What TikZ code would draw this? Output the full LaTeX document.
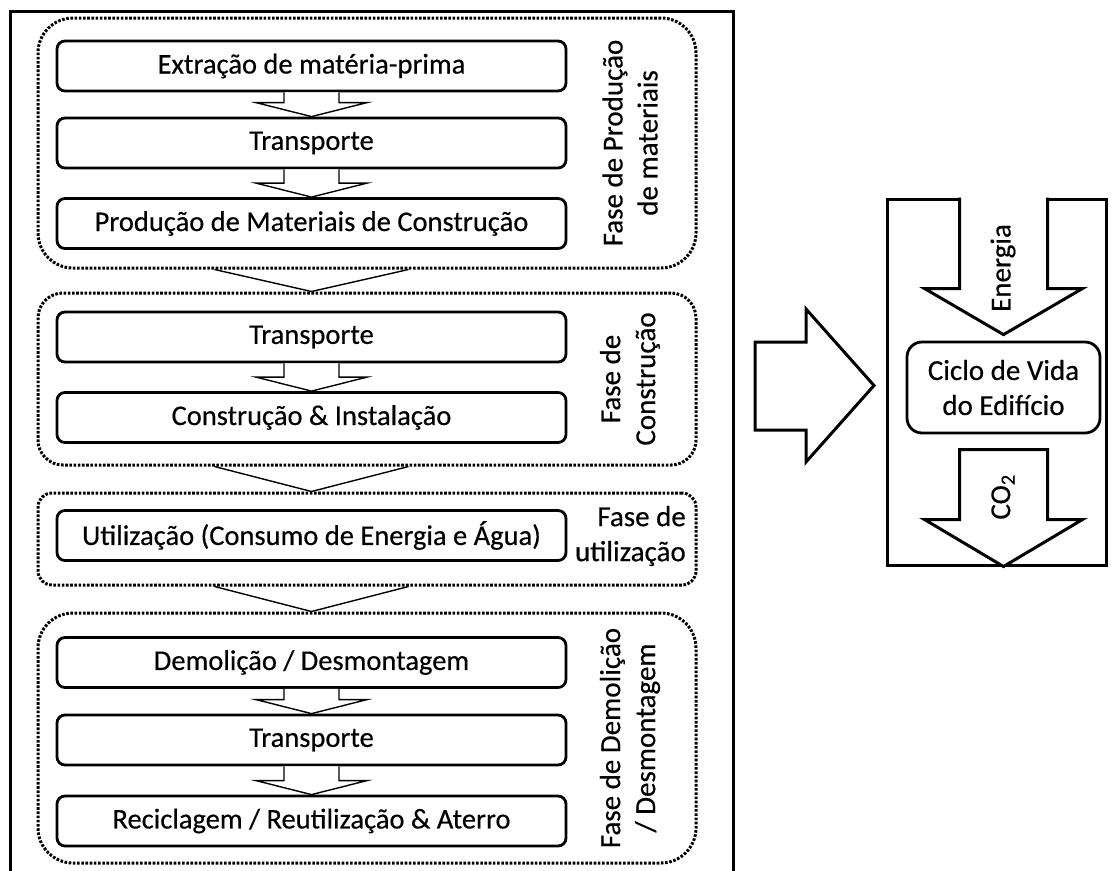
\documentclass[tikz,border=0pt]{standalone}
\usepackage{fontspec}
\setmainfont{Carlito}[FakeBold=0.4]
\usetikzlibrary{calc}
\begin{document}
\begin{tikzpicture}[x=1pt,y=-1pt,
  boxstyle/.style={draw,line width=2.8pt,rounded corners=8pt,minimum width=509pt,minimum height=50pt,inner sep=0pt,font=\fontsize{28.5}{33}\selectfont,fill=white},
  phase/.style={draw,line width=3pt,dash pattern=on 2.6pt off 1.6pt,minimum width=658pt,inner sep=0pt},
  thinarrow/.style={draw,line width=1.4pt,fill=white,line join=miter},
  widearrow/.style={draw,line width=1.4pt},
  bigarrow/.style={draw,line width=3pt,line join=miter,fill=white},
  phaselabel/.style={font=\fontsize{29}{35}\selectfont,align=center,inner sep=0pt}]
\fill[white] (0,0) rectangle (1113,870);
\useasboundingbox (0,0) rectangle (1113,870);
\clip (0,0) rectangle (1113,870);

% outer frame
\node[draw,line width=3pt,minimum width=723pt,minimum height=869pt,inner sep=0pt] (outer) at (371.5,445.5) {};

% phase groups
\node[phase,rounded corners=35pt,minimum height=250pt] (g1) at (367,143) {};
\node[phase,rounded corners=25pt,minimum height=172pt] (g2) at (367,379) {};
\node[phase,rounded corners=14pt,minimum height=92pt] (g3) at (367,539) {};
\node[phase,rounded corners=35pt,minimum height=250pt] (g4) at (367,738) {};

% boxes
\node[boxstyle] (b1) at (311.5,66) {Extração de matéria-prima};
\node[boxstyle] (b2) at (311.5,143) {Transporte};
\node[boxstyle] (b3) at (311.5,223.5) {Produção de Materiais de Construção};
\node[boxstyle] (b4) at (311.5,337) {Transporte};
\node[boxstyle] (b5) at (311.5,417.5) {Construção \& Instalação};
\node[boxstyle] (b6) at (311.5,535.5) {Utilização (Consumo de Energia e Água)};
\node[boxstyle] (b7) at (311.5,662.5) {Demolição / Desmontagem};
\node[boxstyle] (b8) at (311.5,740) {Transporte};
\node[boxstyle] (b9) at (311.5,821) {Reciclagem / Reutilização \& Aterro};

% small block arrows
\foreach \a/\b in {b1/b2,b2/b3,b4/b5,b7/b8,b8/b9}{
  \draw[thinarrow] ($(\a.south)+(-27.5,0)$) -- ($(\b.north)+(-27.5,-14)$) -- ($(\b.north)+(-55.5,-14)$)
    -- (\b.north) -- ($(\b.north)+(55.5,-14)$) -- ($(\b.north)+(27.5,-14)$) -- ($(\a.south)+(27.5,0)$);
}

% wide arrows between phases
\foreach \g/\h in {g1/g2,g2/g3,g3/g4}{
  \coordinate (p\g) at (b1.south|-\g.south);
  \coordinate (q\g) at (b1.south|-\h.north);
  \draw[widearrow] ($(p\g)+(-97,0)$) -- (q\g) -- ($(p\g)+(97,0)$);
}

% phase labels
\node[phaselabel,rotate=90] (l1) at (630,143) {Fase de Produção\\de materiais};
\node[phaselabel,rotate=90] (l2) at (630,379) {Fase de\\Construção};
\node[phaselabel,align=right,anchor=east] (l3) at (686,536) {Fase de\\utilização};
\node[phaselabel,rotate=90] (l4) at (630,738) {Fase de Demolição\\/ Desmontagem};

% right part
\node[draw,line width=3pt,minimum width=219pt,minimum height=366pt,inner sep=0pt] (rbox) at (996.5,382) {};
\node[draw,line width=2.8pt,rounded corners=15pt,minimum width=193pt,minimum height=91pt,inner sep=0pt,align=center,font=\fontsize{29}{35}\selectfont] (ciclo) at (1003.5,387.5) {Ciclo de Vida\\do Edifício};

% big arrow from left frame to right box
\draw[bigarrow] (755,342) -- (806,342) -- (806,309) -- (874,385.5) -- (806,462) -- (806,430) -- (755,430) -- cycle;

% Energia arrow
\coordinate (etop) at (ciclo.north|-rbox.north);
\draw[bigarrow] ($(etop)+(-44,0)$) -- ($(etop)+(-44,91)$) -- ($(etop)+(-79,91)$) -- ($(ciclo.north)+(0,-6)$)
  -- ($(etop)+(79,91)$) -- ($(etop)+(44,91)$) -- ($(etop)+(44,0)$);
\node[phaselabel,rotate=90] (en) at (1003,268) {Energia};

% CO2 arrow
\coordinate (ctip) at (ciclo.south|-rbox.south);
\draw[bigarrow] ($(ctip)+(-44,-117)$) -- ($(ctip)+(44,-117)$) -- ($(ctip)+(44,-47)$) -- ($(ctip)+(79,-47)$)
  -- (ctip) -- ($(ctip)+(-79,-47)$) -- ($(ctip)+(-44,-47)$) -- cycle;
\node[phaselabel,rotate=90] (co) at (1003,497) {CO\textsubscript{2}};
\end{tikzpicture}
\end{document}
